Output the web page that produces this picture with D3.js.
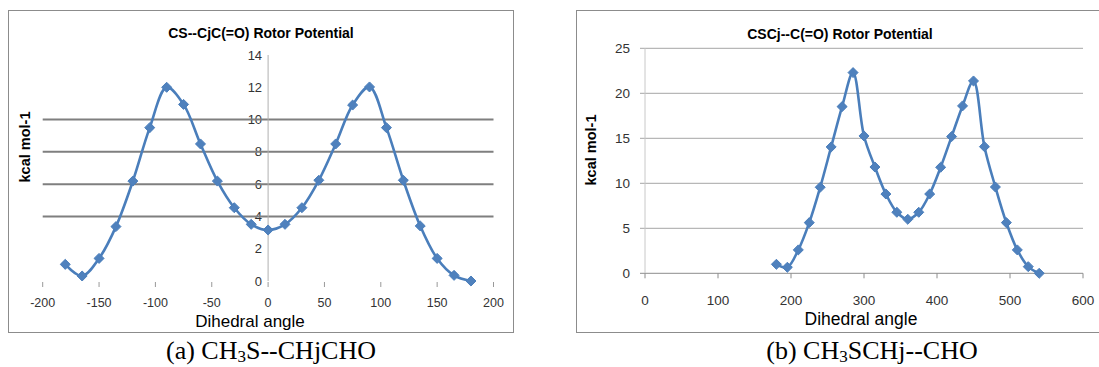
<!DOCTYPE html>
<html>
<head>
<meta charset="utf-8">
<script src="https://cdn.jsdelivr.net/npm/d3@7"></script>
<style>
  body { margin: 0; background: #fff; }
  svg { display: block; }
</style>
</head>
<body>
<svg id="fig" width="1099" height="367"></svg>
<script>
// (a) CS--CjC(=O) rotor scan
const anglesA = [-180, -165, -150, -135, -120, -105, -90, -75, -60, -45, -30, -15, 0,
                 15, 30, 45, 60, 75, 90, 105, 120, 135, 150, 165, 180];
const energyA = [1.03, 0.31, 1.40, 3.37, 6.19, 9.50, 12.0, 10.94, 8.49, 6.19, 4.54, 3.51, 3.16,
                 3.51, 4.54, 6.24, 8.49, 10.9, 12.02, 9.50, 6.24, 3.41, 1.40, 0.35, 0.0];
const xTicksA = [-200, -150, -100, -50, 0, 50, 100, 150, 200];
const yTicksA = [0, 2, 4, 6, 8, 10, 12, 14];
const gridA = [4, 6, 8, 10];

// (b) CSCj--C(=O) rotor scan
const anglesB = [180, 195, 210, 225, 240, 255, 270, 285, 300, 315, 330, 345, 360,
                 375, 390, 405, 420, 435, 450, 465, 480, 495, 510, 525, 540];
const energyB = [1.0, 0.67, 2.6, 5.63, 9.56, 14.04, 18.52, 22.3, 15.26, 11.81, 8.81, 6.78, 6.0,
                 6.78, 8.81, 11.78, 15.19, 18.6, 21.37, 14.07, 9.59, 5.63, 2.6, 0.74, 0.0];
const xTicksB = [0, 100, 200, 300, 400, 500, 600];
const yTicksB = [0, 5, 10, 15, 20, 25];

const blue = "#4A7EBB";
const markerBlue = "#4F81BD";
const sans = "'Liberation Sans', Arial, sans-serif";
const serif = "'Liberation Serif', 'Times New Roman', serif";

const svg = d3.select("#fig");
const diamond = d3.symbol().type(d3.symbolDiamond2).size(64);

function drawSeries(g, xs, ys, x, y) {
    const pts = xs.map((a, i) => [x(a), y(ys[i])]);
    g.append("path")
        .attr("d", d3.line().curve(d3.curveCatmullRom.alpha(0.5))(pts))
        .attr("fill", "none").attr("stroke", blue).attr("stroke-width", 2.6);
    g.selectAll(".pt").data(pts).enter().append("path")
        .attr("transform", d => `translate(${d[0]},${d[1]})`)
        .attr("d", diamond)
        .attr("fill", markerBlue).attr("stroke", blue).attr("stroke-width", 1);
}

// ---------- panel (a) ----------
{
    const g = svg.append("g");
    g.append("rect").attr("x", 8.5).attr("y", 10.5).attr("width", 505).attr("height", 322)
        .attr("fill", "#fff").attr("stroke", "#8c8c8c").attr("stroke-width", 1);

    const x = d3.scaleLinear().domain([-200, 200]).range([42.7, 493.5]);
    const y = d3.scaleLinear().domain([0, 14]).range([281, 55]);

    // tick labels on the y axis (drawn first so grid runs over them)
    g.selectAll(".yl").data(yTicksA).enter().append("text")
        .attr("x", x(0) - 6).attr("y", d => y(d)).attr("dy", "0.35em")
        .attr("text-anchor", "end").style("font-family", sans).style("font-size", "13px")
        .attr("fill", "#333").text(d => d);

    g.selectAll(".grid").data(gridA).enter().append("line")
        .attr("x1", x(-200)).attr("x2", x(200))
        .attr("y1", d => y(d)).attr("y2", d => y(d))
        .attr("stroke", "#7f7f7f").attr("stroke-width", 2);

    g.append("line").attr("x1", x(0)).attr("x2", x(0)).attr("y1", y(14)).attr("y2", y(0))
        .attr("stroke", "#b0b0b0").attr("stroke-width", 1);

    g.selectAll(".xt").data(xTicksA).enter().append("line")
        .attr("x1", d => x(d)).attr("x2", d => x(d)).attr("y1", y(0) + 1).attr("y2", y(0) + 6)
        .attr("stroke", "#999").attr("stroke-width", 1);
    g.selectAll(".xl").data(xTicksA).enter().append("text")
        .attr("x", d => x(d)).attr("y", 303).attr("dy", "0.35em")
        .attr("text-anchor", "middle").style("font-family", sans).style("font-size", "12.5px")
        .attr("fill", "#333").text(d => d);

    drawSeries(g, anglesA, energyA, x, y);

    g.append("text").attr("x", 261).attr("y", 38).attr("text-anchor", "middle")
        .style("font-family", sans).style("font-size", "14px").style("font-weight", "bold")
        .text("CS--CjC(=O) Rotor Potential");
    g.append("text").attr("x", 250).attr("y", 327).attr("text-anchor", "middle")
        .style("font-family", sans).style("font-size", "17px")
        .text("Dihedral angle");
    g.append("text").attr("transform", "translate(30,147) rotate(-90)").attr("text-anchor", "middle")
        .style("font-family", sans).style("font-size", "14.5px").style("font-weight", "bold")
        .text("kcal mol-1");
}

// ---------- panel (b) ----------
{
    const g = svg.append("g");
    g.append("rect").attr("x", 576.5).attr("y", 10.5).attr("width", 540).attr("height", 322)
        .attr("fill", "#fff").attr("stroke", "#8c8c8c").attr("stroke-width", 1);

    const x = d3.scaleLinear().domain([0, 600]).range([645, 1083]);
    const y = d3.scaleLinear().domain([0, 25]).range([273.3, 48.3]);

    g.selectAll(".grid").data(yTicksB).enter().append("line")
        .attr("x1", x(0) - 5).attr("x2", x(600))
        .attr("y1", d => y(d)).attr("y2", d => y(d))
        .attr("stroke", d => d === 0 ? "#8c8c8c" : "#a6a6a6").attr("stroke-width", 1);
    g.append("line").attr("x1", x(0)).attr("x2", x(0)).attr("y1", y(25)).attr("y2", y(0))
        .attr("stroke", "#c8c8c8").attr("stroke-width", 1);
    g.selectAll(".xt").data(xTicksB).enter().append("line")
        .attr("x1", d => x(d)).attr("x2", d => x(d)).attr("y1", y(0)).attr("y2", y(0) + 5)
        .attr("stroke", "#8c8c8c").attr("stroke-width", 1);

    g.selectAll(".yl").data(yTicksB).enter().append("text")
        .attr("x", 630).attr("y", d => y(d)).attr("dy", "0.35em")
        .attr("text-anchor", "end").style("font-family", sans).style("font-size", "13.5px")
        .attr("fill", "#333").text(d => d);
    g.selectAll(".xl").data(xTicksB).enter().append("text")
        .attr("x", d => x(d)).attr("y", 300).attr("dy", "0.35em")
        .attr("text-anchor", "middle").style("font-family", sans).style("font-size", "13.5px")
        .attr("fill", "#333").text(d => d);

    drawSeries(g, anglesB, energyB, x, y);

    g.append("text").attr("x", 840).attr("y", 39).attr("text-anchor", "middle")
        .style("font-family", sans).style("font-size", "14px").style("font-weight", "bold")
        .text("CSCj--C(=O) Rotor Potential");
    g.append("text").attr("x", 861).attr("y", 325).attr("text-anchor", "middle")
        .style("font-family", sans).style("font-size", "17.5px")
        .text("Dihedral angle");
    g.append("text").attr("transform", "translate(596,150) rotate(-90)").attr("text-anchor", "middle")
        .style("font-family", sans).style("font-size", "14.5px").style("font-weight", "bold")
        .text("kcal mol-1");
}

// ---------- captions ----------
function caption(cx, parts) {
    const t = svg.append("text").attr("x", cx).attr("y", 359).attr("text-anchor", "middle")
        .style("font-family", serif).style("font-size", "26px").attr("fill", "#000");
    parts.forEach(p => {
        const s = t.append("tspan").text(p.t);
        if (p.sub) s.style("font-size", "17px").attr("dy", 3);
        if (p.back) s.attr("dy", -3);
    });
}
caption(271, [{t: "(a) CH"}, {t: "3", sub: true}, {t: "S--CHjCHO", back: true}]);
caption(872, [{t: "(b) CH"}, {t: "3", sub: true}, {t: "SCHj--CHO", back: true}]);
</script>
</body>
</html>
